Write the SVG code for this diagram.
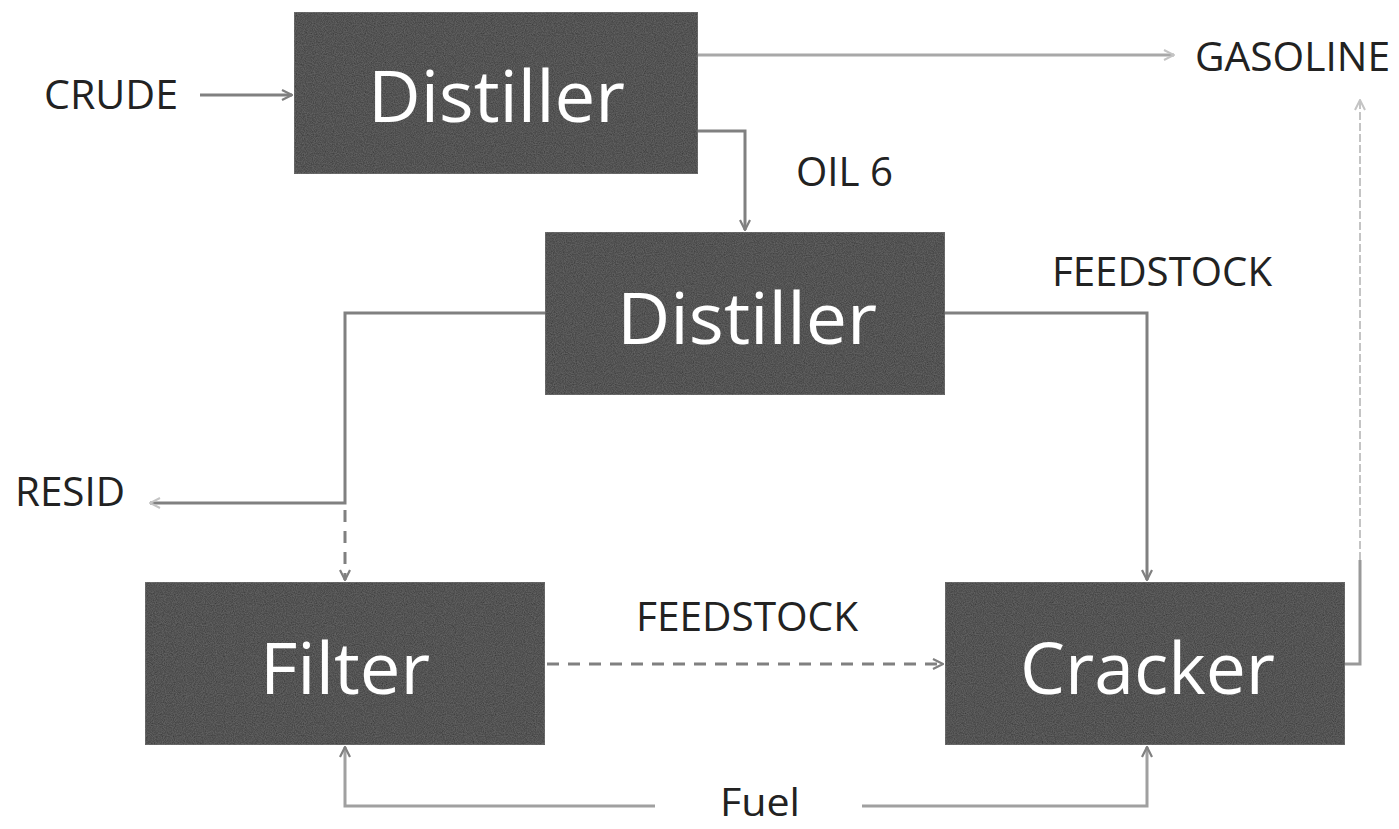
<svg xmlns="http://www.w3.org/2000/svg" width="1399" height="829" viewBox="0 0 1399 829">
<defs>
<marker id="arr" viewBox="0 0 12 12" refX="11" refY="6" markerWidth="12" markerHeight="12" markerUnits="userSpaceOnUse" orient="auto">
<path d="M1,1 L11,6 L1,11" fill="none" stroke="#808080" stroke-width="2.2"/>
</marker>
<marker id="arrf" viewBox="0 0 12 12" refX="11" refY="6" markerWidth="12" markerHeight="12" markerUnits="userSpaceOnUse" orient="auto">
<path d="M1,1 L11,6 L1,11" fill="none" stroke="#c4c4c4" stroke-width="2"/>
</marker>
<filter id="grain" x="0" y="0" width="1" height="1">
<feTurbulence type="fractalNoise" baseFrequency="0.9" numOctaves="2" seed="3" result="n"/>
<feColorMatrix in="n" type="matrix" values="0 0 0 0 0.4  0 0 0 0 0.4  0 0 0 0 0.4  0 0 0 0.3 0" result="g"/>
<feComposite in="g" in2="SourceGraphic" operator="in" result="gc"/>
<feMerge><feMergeNode in="SourceGraphic"/><feMergeNode in="gc"/></feMerge>
</filter>
</defs>
<style>
.box{fill:#363636;stroke:#555555;stroke-width:2;filter:url(#grain)}
.big{font-family:"Open Sans","Liberation Sans",sans-serif;font-size:72px;fill:#ffffff}
.lbl{font-family:"Open Sans","Liberation Sans",sans-serif;font-size:40px;fill:#222222}
.ln{fill:none;stroke:#808080;stroke-width:3}
.dash{fill:none;stroke:#808080;stroke-width:3;stroke-dasharray:12 9}
.faint{fill:none;stroke:#c4c4c4;stroke-width:2;stroke-dasharray:8 3}
</style>
<rect width="1399" height="829" fill="#ffffff"/>
<g id="connectors">
<path class="ln" d="M200,95 L292,95" marker-end="url(#arr)"/>
<path class="ln" d="M698,55 L1174,55" marker-end="url(#arrf)" style="stroke:#a8a8a8"/>
<path class="ln" d="M698,131 L745,131 L745,230" marker-end="url(#arr)"/>
<path class="ln" d="M545,313 L345,313 L345,503 L150,503" marker-end="url(#arrf)"/>
<path class="dash" d="M345,510 L345,580" marker-end="url(#arr)"/>
<path class="ln" d="M945,313 L1147,313 L1147,580" marker-end="url(#arr)"/>
<path class="dash" d="M547,664 L943,664" marker-end="url(#arr)"/>
<path class="ln" d="M1345,664 L1360,664 L1360,560" style="stroke:#999"/>
<path class="faint" d="M1360,560 L1360,100" marker-end="url(#arrf)"/>
<path class="ln" d="M655,806 L345,806 L345,747" marker-end="url(#arr)" style="stroke:#a0a0a0"/>
<path class="ln" d="M862,806 L1147,806 L1147,747" marker-end="url(#arr)" style="stroke:#a0a0a0"/>
</g>
<g id="distiller1">
<rect class="box" x="294" y="12" width="404" height="162"/>
<text class="big" x="368" y="122" textLength="257" lengthAdjust="spacingAndGlyphs">Distiller</text>
</g>
<g id="distiller2">
<rect class="box" x="545" y="232" width="400" height="163"/>
<text class="big" x="617" y="344" textLength="260" lengthAdjust="spacingAndGlyphs">Distiller</text>
</g>
<g id="filter">
<rect class="box" x="145" y="582" width="400" height="163"/>
<text class="big" x="260" y="694" textLength="170" lengthAdjust="spacingAndGlyphs">Filter</text>
</g>
<g id="cracker">
<rect class="box" x="945" y="582" width="400" height="163"/>
<text class="big" x="1020" y="694" textLength="255" lengthAdjust="spacingAndGlyphs">Cracker</text>
</g>
<g id="labels">
<text class="lbl" x="44" y="109" textLength="134" lengthAdjust="spacingAndGlyphs">CRUDE</text>
<text class="lbl" x="1195" y="71" textLength="195" lengthAdjust="spacingAndGlyphs">GASOLINE</text>
<text class="lbl" x="796" y="186" textLength="97" lengthAdjust="spacingAndGlyphs">OIL 6</text>
<text class="lbl" x="1052" y="286" textLength="220" lengthAdjust="spacingAndGlyphs">FEEDSTOCK</text>
<text class="lbl" x="15" y="506" textLength="110" lengthAdjust="spacingAndGlyphs">RESID</text>
<text class="lbl" x="636" y="631" textLength="222" lengthAdjust="spacingAndGlyphs">FEEDSTOCK</text>
<text class="lbl" x="720" y="816" textLength="80" lengthAdjust="spacingAndGlyphs" style="font-size:38px">Fuel</text>
</g>
</svg>
